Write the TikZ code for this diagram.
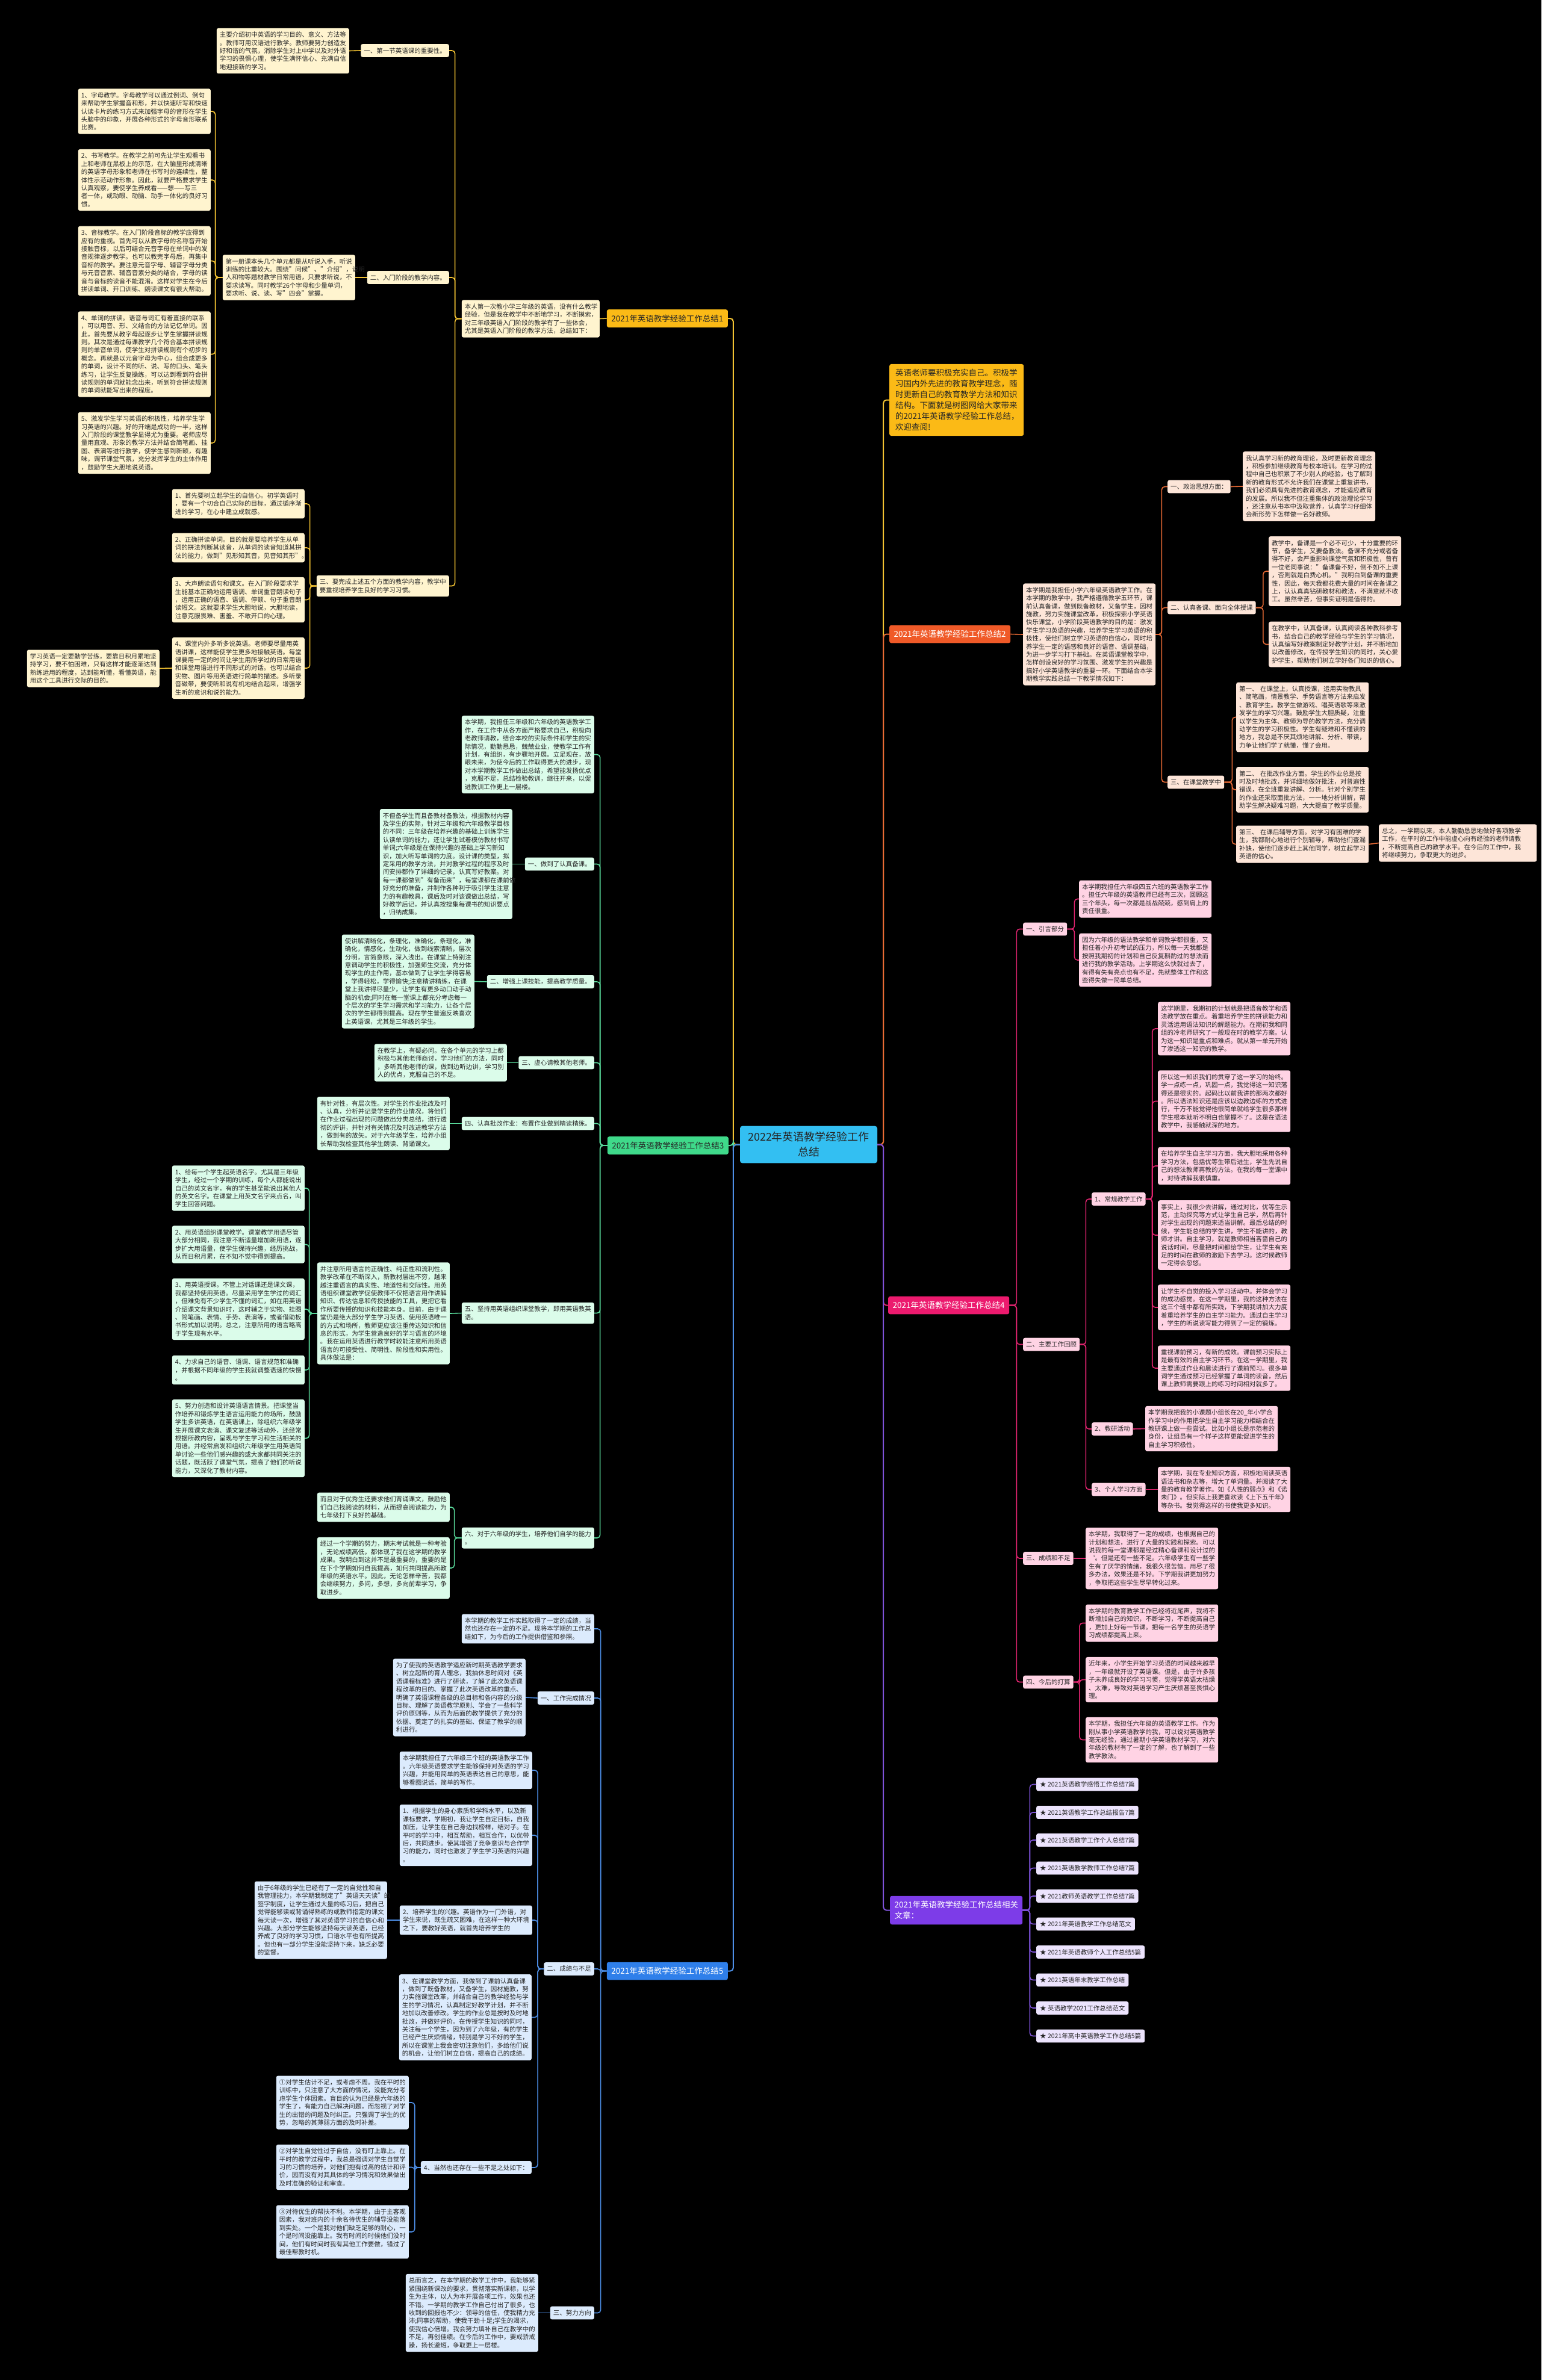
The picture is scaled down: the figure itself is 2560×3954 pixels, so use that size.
\documentclass[tikz,border=0pt]{standalone}
\usepackage{fontspec}
\setmainfont{Noto Sans CJK SC}
\newcommand{\bodyfs}{\fontsize{10.5pt}{13.4pt}\selectfont}
\newcommand{\labfs}{\fontsize{13.5pt}{17.9pt}\selectfont}
\newcommand{\rootfs}{\fontsize{18pt}{25pt}\selectfont}
\definecolor{rootbg}{HTML}{33BFF2}
\definecolor{ylab}{HTML}{FBBA16}\definecolor{ybg}{HTML}{FFF4CF}\definecolor{yln}{HTML}{F2C232}
\definecolor{olab}{HTML}{F05A28}\definecolor{obg}{HTML}{FDE5D8}\definecolor{oln}{HTML}{E86A35}
\definecolor{glab}{HTML}{3FD98A}\definecolor{gbg}{HTML}{DBFCEA}\definecolor{gln}{HTML}{58D99A}
\definecolor{plab}{HTML}{EC1A6E}\definecolor{pbg}{HTML}{FFD3E4}\definecolor{pln}{HTML}{E0246F}
\definecolor{vlab}{HTML}{7D3CE8}\definecolor{vbg}{HTML}{ECE3FD}\definecolor{vln}{HTML}{7E52D9}
\definecolor{blab}{HTML}{2F7FEA}\definecolor{bbg}{HTML}{DCEBFD}\definecolor{bln}{HTML}{4D8EE6}
\definecolor{ink}{HTML}{262626}

\begin{document}
\begin{tikzpicture}[x=1pt, y=-1pt,
  tb/.style={rounded corners=3pt, inner xsep=5pt, inner ysep=6pt, align=left, font=\bodyfs, text=ink, text width=210pt},
  sec/.style={rounded corners=3pt, inner xsep=5pt, inner ysep=6pt, font=\bodyfs, text=ink},
  mainlab/.style={rounded corners=3pt, inner xsep=7.5pt, inner ysep=8.5pt, font=\labfs},
  lside/.style={anchor=east}, rside/.style={anchor=west},
  ytb/.style={tb, fill=ybg}, ysec/.style={sec, fill=ybg},
  otb/.style={tb, fill=obg}, osec/.style={sec, fill=obg},
  gtb/.style={tb, fill=gbg}, gsec/.style={sec, fill=gbg},
  ptb/.style={tb, fill=pbg}, psec/.style={sec, fill=pbg},
  vsec/.style={sec, fill=vbg, inner xsep=6pt},
  btb/.style={tb, fill=bbg}, bsec/.style={sec, fill=bbg},
  link/.style={line width=1.6pt, rounded corners=5pt},
  ylink/.style={link, draw=yln}, olink/.style={link, draw=oln}, glink/.style={link, draw=gln},
  plink/.style={link, draw=pln}, vlink/.style={link, draw=vln}, blink/.style={link, draw=bln}]
  \fill[black] (0,0) rectangle (2560,3954);
  \useasboundingbox (0,0) rectangle (2560,3954);

  % root
  \node[rounded corners=4pt, fill=rootbg, font=\rootfs, text=ink, align=center, text width=204pt, inner xsep=12pt, inner ysep=10pt]
    (root) at (1343,1901.5) {2022年英语教学经验工作\\总结};

  % ---- 总结1 (yellow, left top)
  \node[mainlab, lside, fill=ylab, text=ink] (lab1) at (1209,529) {2021年英语教学经验工作总结1};
  \node[ytb, lside, text width=219pt] (y0) at (996,529.5) {本人第一次教小学三年级的英语，没有什么教学\\经验，但是我在教学中不断地学习，不断摸索，\\对三年级英语入门阶段的教学有了一些体会，\\尤其是英语入门阶段的教学方法，总结如下：};
  \node[ysec, lside] (y1) at (746,84) {一、第一节英语课的重要性。};
  \node[ytb, lside] (y1a) at (580,84.5) {主要介绍初中英语的学习目的、意义、方法等\\。教师可用汉语进行教学。教师要努力创造友\\好和谐的气氛，消除学生对上中学以及对外语\\学习的畏惧心理，使学生满怀信心、充满自信\\地迎接新的学习。};
  \node[ysec, lside] (y2) at (746,461) {二、入门阶段的教学内容。};
  \node[ytb, lside] (y2a) at (590,461) {第一册课本头几个单元都是从听说入手，听说\\训练的比重较大。围绕"问候"、"介绍"，说明\\人和物等题材教学日常用语，只要求听说，不\\要求读写。同时教学26个字母和少量单词，\\要求听、说、读、写"四会"掌握。};
  \node[ytb, lside] (y2b) at (350,185) {1、字母教学。字母教学可以通过例词、例句\\来帮助学生掌握音和形，并以快速听写和快速\\认读卡片的练习方式来加强字母的音形在学生\\头脑中的印象，开展各种形式的字母音形联系\\比赛。};
  \node[ytb, lside] (y2c) at (350,299) {2、书写教学。在教学之前可先让学生观看书\\上和老师在黑板上的示范，在大脑里形成清晰\\的英语字母形象和老师在书写时的连续性，整\\体性示范动作形象。因此，就要严格要求学生\\认真观察，要使学生养成看——想——写三\\者一体，或动眼、动脑、动手一体化的良好习\\惯。};
  \node[ytb, lside] (y2d) at (350,433.5) {3、音标教学。在入门阶段音标的教学应得到\\应有的重视。首先可以从教字母的名称音开始\\接触音标，以后可结合元音字母在单词中的发\\音规律逐步教学。也可以教完字母后，再集中\\音标的教学。要注意元音字母、辅音字母分类\\与元音音素、辅音音素分类的结合，字母的读\\音与音标的读音不能混淆。这样对学生在今后\\拼读单词、开口训练、朗读课文有很大帮助。};
  \node[ytb, lside] (y2e) at (350,588.5) {4、单词的拼读。语音与词汇有着直接的联系\\，可以用音、形、义结合的方法记忆单词。因\\此，首先要从教字母起逐步让学生掌握拼读规\\则。其次是通过每课教学几个符合基本拼读规\\则的单音单词，使学生对拼读规则有个初步的\\概念。再就是以元音字母为中心，组合成更多\\的单词，设计不同的听、说、写的口头、笔头\\练习，让学生反复操练，可以达到看到符合拼\\读规则的单词就能念出来，听到符合拼读规则\\的单词就能写出来的程度。};
  \node[ytb, lside] (y2f) at (350,736) {5、激发学生学习英语的积极性，培养学生学\\习英语的兴趣。好的开端是成功的一半，这样\\入门阶段的课堂教学显得尤为重要。老师应尽\\量用直观、形象的教学方法并结合简笔画、挂\\图、表演等进行教学，使学生感到新颖，有趣\\味，调节课堂气氛，充分发挥学生的主体作用\\，鼓励学生大胆地说英语。};
  \node[ytb, lside] (y3) at (746,973.5) {三、要完成上述五个方面的教学内容，教学中\\要重视培养学生良好的学习习惯。};
  \node[ytb, lside] (y3a) at (506,837) {1、首先要树立起学生的自信心。初学英语时\\，要有一个切合自己实际的目标，通过循序渐\\进的学习，在心中建立成就感。};
  \node[ytb, lside] (y3b) at (506,910) {2、正确拼读单词。目的就是要培养学生从单\\词的拼法判断其读音，从单词的读音知道其拼\\法的能力，做到"见形知其音，见音知其形"。};
  \node[ytb, lside] (y3c) at (506,996.5) {3、大声朗读语句和课文。在入门阶段要求学\\生能基本正确地运用语调、单词重音朗读句子\\，运用正确的语音、语调、停顿、句子重音朗\\读短文。这就要求学生大胆地说，大胆地读，\\注意克服畏难、害羞、不敢开口的心理。};
  \node[ytb, lside] (y3d) at (506,1110) {4、课堂内外多听多说英语。老师要尽量用英\\语讲课，这样能使学生更多地接触英语。每堂\\课要用一定的时间让学生用所学过的日常用语\\和课堂用语进行不同形式的对话。也可以结合\\实物、图片等用英语进行简单的描述。多听录\\音磁带，要使听和说有机地结合起来，增强学\\生听的意识和说的能力。};
  \node[ytb, lside] (y3e) at (265,1110.5) {学习英语一定要勤学苦练，要靠日积月累地坚\\持学习，要不怕困难，只有这样才能逐渐达到\\熟练运用的程度，达到能听懂，看懂英语，能\\用这个工具进行交际的目的。};

  % ---- 总结3 (green, left middle)
  \node[mainlab, lside, fill=glab, text=ink] (lab3) at (1210,1903) {2021年英语教学经验工作总结3};
  \node[gtb, lside] (g0) at (987,1253.5) {本学期，我担任三年级和六年级的英语教学工\\作，在工作中从各方面严格要求自己，积极向\\老教师请教，结合本校的实际条件和学生的实\\际情况，勤勤恳恳，兢兢业业，使教学工作有\\计划，有组织，有步骤地开展。立足现在，放\\眼未来，为使今后的工作取得更大的进步，现\\对本学期教学工作做出总结，希望能发扬优点\\，克服不足，总结检验教训，继往开来，以促\\进教训工作更上一层楼。};
  \node[gsec, lside] (g1) at (987,1435.5) {一、做到了认真备课。};
  \node[gtb, lside] (g1a) at (851,1435.5) {不但备学生而且备教材备教法，根据教材内容\\及学生的实际，针对三年级和六年级教学目标\\的不同：三年级在培养兴趣的基础上训练学生\\认读单词的能力，还让学生试着模仿教材书写\\单词;六年级是在保持兴趣的基础上学习新知\\识，加大听写单词的力度。设计课的类型，拟\\定采用的教学方法，并对教学过程的程序及时\\间安排都作了详细的记录，认真写好教案。对\\每一课都做到"有备而来"，每堂课都在课前做\\好充分的准备，并制作各种利于吸引学生注意\\力的有趣教具，课后及时对该课做出总结，写\\好教学后记，并认真按搜集每课书的知识要点\\，归纳成集。};
  \node[gsec, lside] (g2) at (987,1631) {二、增强上课技能，提高教学质量。};
  \node[gtb, lside] (g2a) at (788,1630.5) {使讲解清晰化，条理化，准确化，条理化，准\\确化，情感化，生动化，做到线索清晰，层次\\分明，言简意赅，深入浅出。在课堂上特别注\\意调动学生的积极性，加强师生交流，充分体\\现学生的主作用，基本做到了让学生学得容易\\，学得轻松，学得愉快;注意精讲精练，在课\\堂上我讲得尽量少，让学生有更多动口动手动\\脑的机会;同时在每一堂课上都充分考虑每一\\个层次的学生学习需求和学习能力，让各个层\\次的学生都得到提高。现在学生普遍反映喜欢\\上英语课，尤其是三年级的学生。};
  \node[gsec, lside] (g3) at (987,1765.5) {三、虚心请教其他老师。};
  \node[gtb, lside] (g3a) at (842,1765.5) {在教学上，有疑必问。在各个单元的学习上都\\积极与其他老师商讨，学习他们的方法，同时\\，多听其他老师的课，做到边听边讲，学习别\\人的优点，克服自己的不足。};
  \node[gsec, lside] (g4) at (987,1866.5) {四、认真批改作业：布置作业做到精读精练。};
  \node[gtb, lside] (g4a) at (747,1866.5) {有针对性，有层次性。对学生的作业批改及时\\、认真，分析并记录学生的作业情况，将他们\\在作业过程出现的问题做出分类总结，进行透\\彻的评讲，并针对有关情况及时改进教学方法\\，做到有的放矢。对于六年级学生，培养小组\\长帮助我检查其他学生朗读、背诵课文。};
  \node[gtb, lside] (g5) at (987,2181.5) {五、坚持用英语组织课堂教学，即用英语教英\\语。};
  \node[gtb, lside] (g5a) at (747,2182) {并注意所用语言的正确性、纯正性和流利性。\\教学改革在不断深入，新教材层出不穷，越来\\越注重语言的真实性、地道性和交际性。用英\\语组织课堂教学促使教师不仅把语言用作讲解\\知识、传达信息和传授技能的工具，更把它看\\作所要传授的知识和技能本身。目前，由于课\\堂仍是绝大部分学生学习英语、使用英语唯一\\的方式和场所，教师更应该注重传达知识和信\\息的形式，为学生营造良好的学习语言的环境\\。我在运用英语进行教学时较能注意所用英语\\语言的可接受性、简明性、阶段性和实用性。\\具体做法是：};
  \node[gtb, lside] (g5b) at (506,1974) {1、给每一个学生起英语名字。尤其是三年级\\学生，经过一个学期的训练，每个人都能说出\\自己的英文名字，有的学生甚至能说出其他人\\的英文名字。在课堂上用英文名字来点名，叫\\学生回答问题。};
  \node[gtb, lside] (g5c) at (506,2067.5) {2、用英语组织课堂教学。课堂教学用语尽管\\大部分相同，我注意不断适量增加新用语，逐\\步扩大用语量，使学生保持兴趣，经历挑战，\\从而日积月累，在不知不觉中得到提高。};
  \node[gtb, lside] (g5d) at (506,2175) {3、用英语授课。不管上对话课还是课文课，\\我都坚持使用英语。尽量采用学生学过的词汇\\，但难免有不少学生不懂的词汇，如在用英语\\介绍课文背景知识时，这时辅之于实物、挂图\\、简笔画、表情、手势、表演等，或者借助板\\书形式加以说明。总之，注意所用的语言略高\\于学生现有水平。};
  \node[gtb, lside] (g5e) at (506,2276) {4、力求自己的语音、语调、语言规范和准确\\，并根据不同年级的学生我就调整语速的快慢\\。};
  \node[gtb, lside] (g5f) at (506,2389.5) {5、努力创造和设计英语语言情景。把课堂当\\作培养和锻炼学生语言运用能力的场所，鼓励\\学生多讲英语，在英语课上，除组织六年级学\\生开展课文表演、课文复述等活动外，还经常\\根据所教内容，呈现与学生学习和生活相关的\\用语。并经常启发和组织六年级学生用英语简\\单讨论一些他们感兴趣的或大家都共同关注的\\话题，既活跃了课堂气氛，提高了他们的听说\\能力，又深化了教材内容。};
  \node[gtb, lside] (g6) at (987,2555) {六、对于六年级的学生，培养他们自学的能力\\。};
  \node[gtb, lside] (g6a) at (747,2504) {而且对于优秀生还要求他们背诵课文，鼓励他\\们自己找阅读的材料，从而提高阅读能力，为\\七年级打下良好的基础。};
  \node[gtb, lside] (g6b) at (747,2605) {经过一个学期的努力，期末考试就是一种考验\\，无论成绩高低，都体现了我在这学期的教学\\成果。我明白到这并不是最重要的，重要的是\\在下个学期如何自我提高，如何共同提高所教\\年级的英语水平。因此，无论怎样辛苦，我都\\会继续努力，多问，多想，多向前辈学习，争\\取进步。};

  % ---- 总结5 (blue, left bottom)
  \node[mainlab, lside, fill=blab, text=white] (lab5) at (1209,3274.5) {2021年英语教学经验工作总结5};
  \node[btb, lside] (b0) at (987,2706) {本学期的教学工作实践取得了一定的成绩，当\\然也还存在一定的不足。现将本学期的工作总\\结如下，为今后的工作提供借鉴和参照。};
  \node[bsec, lside] (b1) at (987,2821) {一、工作完成情况};
  \node[btb, lside] (b1a) at (873,2820) {为了使我的英语教学适应新时期英语教学要求\\、树立起新的育人理念，我抽休息时间对《英\\语课程标准》进行了研读，了解了此次英语课\\程改革的目的、掌握了此次英语改革的重点、\\明确了英语课程各级的总目标和各内容的分级\\目标、理解了英语教学原则、学会了一些科学\\评价原则等，从而为后面的教学提供了充分的\\依据、奠定了的扎实的基础、保证了教学的顺\\利进行。};
  \node[bsec, lside] (b2) at (987,3271) {二、成绩与不足};
  \node[btb, lside] (b2a) at (884,2941) {本学期我担任了六年级三个班的英语教学工作\\。六年级英语要求学生能够保持对英语的学习\\兴趣，并能用简单的英语表达自己的意思，能\\够看图说话，简单的写作。};
  \node[btb, lside] (b2b) at (884,3049) {1、根据学生的身心素质和学科水平，以及新\\课标要求，学期初，我让学生自定目标，自我\\加压，让学生在自己身边找榜样，结对子。在\\平时的学习中，相互帮助，相互合作，以优带\\后，共同进步。使其增强了竞争意识与合作学\\习的能力，同时也激发了学生学习英语的兴趣\\。};
  \node[btb, lside] (b2c) at (884,3190) {2、培养学生的兴趣。英语作为一门外语，对\\学生来说，既生疏又困难，在这样一种大环境\\之下，要教好英语，就首先培养学生的};
  \node[btb, lside] (b2c1) at (643,3190) {由于6年级的学生已经有了一定的自觉性和自\\我管理能力，本学期我制定了"英语天天读"的\\签字制度，让学生通过大量的练习后，把自己\\觉得能够读或背诵得熟练的或教师指定的课文\\每天读一次，增强了其对英语学习的自信心和\\兴趣。大部分学生能够坚持每天读英语，已经\\养成了良好的学习习惯，口语水平也有所提高\\。但也有一部分学生没能坚持下来，缺乏必要\\的监督。};
  \node[btb, lside] (b2d) at (883,3351.5) {3、在课堂教学方面，我做到了课前认真备课\\，做到了既备教材，又备学生，因材施教，努\\力实施课堂改革，并结合自己的教学经验与学\\生的学习情况，认真制定好教学计划，并不断\\地加以改善修改。学生的作业总是按时及时地\\批改，并做好评价。在传授学生知识的同时，\\关注每一个学生，因为到了六年级，有的学生\\已经产生厌烦情绪，特别是学习不好的学生，\\所以在课堂上我会密切注意他们，多给他们说\\的机会，让他们树立自信，提高自己的成绩。};
  \node[bsec, lside] (b2e) at (883,3601) {4、当然也还存在一些不足之处如下：};
  \node[btb, lside] (b2e1) at (679,3493) {①对学生估计不足，或考虑不周。我在平时的\\训练中，只注意了大方面的情况，没能充分考\\虑学生个体因素。盲目的认为已经是六年级的\\学生了，有能力自己解决问题，而忽视了对学\\生的出错的问题及时纠正。只强调了学生的优\\势，忽略的其薄弱方面的及时补差。};
  \node[btb, lside] (b2e2) at (679,3600.5) {②对学生自觉性过于自信，没有盯上靠上。在\\平时的教学过程中，我总是强调对学生自觉学\\习的习惯的培养，对他们抱有过高的估计和评\\价，因而没有对其具体的学习情况和效果做出\\及时准确的验证和审查。};
  \node[btb, lside] (b2e3) at (679,3708) {③对待优生的帮扶不利。本学期，由于主客观\\因素，我对班内的十余名待优生的辅导没能落\\到实处。一个是我对他们缺乏足够的耐心，一\\个是时间没能靠上。我有时间的时候他们没时\\间，他们有时间时我有其他工作要做，错过了\\最佳帮教时机。};
  \node[bsec, lside] (b3) at (987,3842.5) {三、努力方向};
  \node[btb, lside] (b3a) at (894,3842.5) {总而言之，在本学期的教学工作中，我能够紧\\紧围绕新课改的要求，贯彻落实新课标，以学\\生为主体，以人为本开展各项工作，效果也还\\不错。一学期的教学工作自己付出了很多，也\\收到的回报也不少：领导的信任，使我精力充\\沛;同事的帮助，使我干劲十足;学生的渴求，\\使我信心倍增。我会努力填补自己在教学中的\\不足，再创佳绩。在今后的工作中，要戒骄戒\\躁，扬长避短，争取更上一层楼。};

  % ---- intro and 总结2 (orange, right top)
  \node[mainlab, rside, fill=ylab, text=ink, align=left, text width=203pt, inner xsep=10pt] (t0) at (1477,664.5) {英语老师要积极充实自己。积极学\\习国内外先进的教育教学理念，随\\时更新自己的教育教学方法和知识\\结构。下面就是树图网给大家带来\\的2021年英语教学经验工作总结，\\欢迎查阅!};
  \node[mainlab, rside, fill=olab, text=white] (lab2) at (1477,1053.5) {2021年英语教学经验工作总结2};
  \node[otb, rside] (o0) at (1699,1054) {本学期是我担任小学六年级英语教学工作。在\\本学期的教学中，我严格遵循教学五环节，课\\前认真备课，做到既备教材，又备学生，因材\\施教，努力实施课堂改革，积极探索小学英语\\快乐课堂，小学阶段英语教学的目的是：激发\\学生学习英语的兴趣，培养学生学习英语的积\\极性，使他们树立学习英语的自信心，同时培\\养学生一定的语感和良好的语音、语调基础，\\为进一步学习打下基础。在英语课堂教学中，\\怎样创设良好的学习氛围、激发学生的兴趣是\\搞好小学英语教学的重要一环。下面结合本学\\期教学实践总结一下教学情况如下：};
  \node[osec, rside] (o1) at (1939,808.5) {一、政治思想方面：};
  \node[otb, rside] (o1a) at (2064,808) {我认真学习新的教育理论，及时更新教育理念\\，积极参加继续教育与校本培训。在学习的过\\程中自己也积累了不少别人的经验，也了解到\\新的教育形式不允许我们在课堂上重复讲书，\\我们必须具有先进的教育观念，才能适应教育\\的发展。所以我不但注重集体的政治理论学习\\，还注意从书本中汲取营养，认真学习仔细体\\会新形势下怎样做一名好教师。};
  \node[osec, rside] (o2) at (1939,1009.5) {二、认真备课、面向全体授课};
  \node[otb, rside] (o2a) at (2107,949) {教学中，备课是一个必不可少，十分重要的环\\节，备学生，又要备教法。备课不充分或者备\\得不好，会严重影响课堂气氛和积极性，曾有\\一位老同事说："备课备不好，倒不如不上课\\，否则就是白费心机。"我明白到备课的重要\\性，因此，每天我都花费大量的时间在备课之\\上，认认真真钻研教材和教法，不满意就不收\\工。虽然辛苦，但事实证明是值得的。};
  \node[otb, rside] (o2b) at (2107,1070.5) {在教学中，认真备课，认真阅读各种教科参考\\书，结合自己的教学经验与学生的学习情况，\\认真编写好教案制定好教学计划，并不断地加\\以改善修改，在传授学生知识的同时，关心爱\\护学生，帮助他们树立学好各门知识的信心。};
  \node[osec, rside] (o3) at (1939,1299.5) {三、在课堂教学中};
  \node[otb, rside] (o3a) at (2053,1191.5) {第一、 在课堂上，认真授课，运用实物教具\\、简笔画，情景教学、手势语言等方法来启发\\、教育学生。教学生做游戏、唱英语歌等来激\\发学生的学习兴趣。鼓励学生大胆质疑，注重\\以学生为主体、教师为导的教学方法，充分调\\动学生的学习积极性。学生有疑难和不懂读的\\地方，我总是不厌其烦地讲解、分析、带读，\\力争让他们学了就懂，懂了会用。};
  \node[otb, rside] (o3b) at (2053,1312) {第二、 在批改作业方面。学生的作业总是按\\时及时地批改，并详细地做好批注，对普遍性\\错误，在全班重复讲解、分析。针对个别学生\\的作业还采取面批方法，一一地分析讲解，帮\\助学生解决疑难习题，大大提高了教学质量。};
  \node[otb, rside] (o3c) at (2053,1402.5) {第三、 在课后辅导方面。对学习有困难的学\\生，我都耐心地进行个别辅导，帮助他们查漏\\补缺，使他们逐步赶上其他同学，树立起学习\\英语的信心。};
  \node[otb, rside, text width=252pt] (o3c1) at (2290,1400.5) {总之，一学期以来，本人勤勤恳恳地做好各项教学\\工作，在平时的工作中能虚心向有经验的老师请教\\，不断提高自己的教学水平。在今后的工作中，我\\将继续努力，争取更大的进步。};

  % ---- 总结4 (pink, right middle)
  \node[mainlab, rside, fill=plab, text=white] (lab4) at (1475,2168.5) {2021年英语教学经验工作总结4};
  \node[psec, rside] (p1) at (1699,1543.5) {一、引言部分};
  \node[ptb, rside] (p1a) at (1792,1493.5) {本学期我担任六年级四五六班的英语教学工作\\。担任六年级的英语教师已经有三次，回顾这\\三个年头，每一次都是战战兢兢，感到肩上的\\责任很重。};
  \node[ptb, rside] (p1b) at (1792,1595) {因为六年级的语法教学和单词教学都很重，又\\担任着小升初考试的压力，所以每一天我都是\\按照我期初的计划和自己反复斟酌过的想法而\\进行我的教学活动。上学期这么快就过去了，\\有得有失有亮点也有不足，先就整体工作和这\\些得失做一简单总结。};
  \node[psec, rside] (p2) at (1699,2233.5) {二、主要工作回顾};
  \node[psec, rside] (p21) at (1813,1992) {1、常规教学工作};
  \node[ptb, rside] (p21a) at (1923,1709) {这学期里，我期初的计划就是把语音教学和语\\法教学放在重点。着重培养学生的拼读能力和\\灵活运用语法知识的解题能力。在期初我和同\\组的冷老师研究了一般现在时的教学方案。认\\为这一知识是重点和难点。就从第一单元开始\\了渗透这一知识的教学。};
  \node[ptb, rside] (p21b) at (1923,1829.5) {所以这一知识我们的贯穿了这一学习的始终。\\学一点练一点，巩固一点，我觉得这一知识落\\得还是很实的。起码比以前我讲的那两次都好\\。所以语法知识还是应该以边教边练的方式进\\行，千万不能觉得他很简单就给学生很多那样\\学生根本就听不明白也掌握不了。这是在语法\\教学中，我感触就深的地方。};
  \node[ptb, rside] (p21c) at (1923,1937) {在培养学生自主学习方面，我大胆地采用各种\\学习方法，包括优等生带后进生，学生先说自\\己的想法教师再教的方法。在我的每一堂课中\\，对待讲解我很慎重。};
  \node[ptb, rside] (p21d) at (1923,2052) {事实上，我很少去讲解，通过对比，优等生示\\范，主动探究等方式让学生自己学，然后再针\\对学生出现的问题来适当讲解。最后总结的时\\候，学生能总结的学生讲，学生不能讲的，教\\师才讲。自主学习，就是教师相当吝啬自己的\\说话时间，尽量把时间都给学生，让学生有充\\足的时间在教师的激励下去学习。这时候教师\\一定得会忽悠。};
  \node[ptb, rside] (p21e) at (1923,2172) {让学生不自觉的投入学习活动中。并体会学习\\的成功感觉。在这一学期里，我的这种方法在\\这三个班中都有所实践，下学期我讲加大力度\\着重培养学生的自主学习能力。通过自主学习\\，学生的听说读写能力得到了一定的锻炼。};
  \node[ptb, rside] (p21f) at (1923,2273) {重视课前预习，有新的成效。课前预习实际上\\是最有效的自主学习环节。在这一学期里，我\\主要通过作业和晨读进行了课前预习。很多单\\词学生通过预习已经掌握了单词的读音，然后\\课上教师需要跟上的练习时间相对就多了。};
  \node[psec, rside] (p22) at (1813,2374) {2、教研活动};
  \node[ptb, rside] (p22a) at (1902,2373.5) {本学期我把我的小课题小组长在20\_年小学合\\作学习中的作用把学生自主学习能力相结合在\\教研课上做一些尝试。比如小组长是示范者的\\身份，让组员有一个样子这样更能促进学生的\\自主学习积极性。};
  \node[psec, rside] (p23) at (1813,2474.5) {3、个人学习方面};
  \node[ptb, rside] (p23a) at (1923,2474.5) {本学期，我在专业知识方面，积极地阅读英语\\语法书和杂志等，增大了单词量。并阅读了大\\量的教育教学著作。如《人性的弱点》和《诺\\未门》。但实际上我更喜欢读《上下五千年》\\等杂书。我觉得这样的书使我更多知识。};
  \node[psec, rside] (p3) at (1699,2589) {三、成绩和不足};
  \node[ptb, rside] (p3a) at (1803,2589) {本学期，我取得了一定的成绩，也根据自己的\\计划和想法，进行了大量的实践和探索。可以\\说我的每一堂课都是经过精心备课和设计过的\\`。但是还有一些不足。六年级学生有一些学\\生有了厌学的情绪，我很久很苦恼。用尽了很\\多办法，效果还是不好。下学期我讲更加努力\\，争取把这些学生尽早转化过来。};
  \node[psec, rside] (p4) at (1699,2794.5) {四、今后的打算};
  \node[ptb, rside] (p4a) at (1803,2696.5) {本学期的教育教学工作已经将近尾声，我将不\\断增加自己的知识，不断学习，不断提高自己\\，更加上好每一节课。把每一名学生的英语学\\习成绩都提高上来。};
  \node[ptb, rside] (p4b) at (1803,2790.5) {近年来，小学生开始学习英语的时间越来越早\\，一年级就开设了英语课。但是，由于许多孩\\子未养成良好的学习习惯，觉得学英语太枯燥\\、太难，导致对英语学习产生厌烦甚至畏惧心\\理。};
  \node[ptb, rside] (p4c) at (1803,2890.5) {本学期，我担任六年级的英语教学工作。作为\\刚从事小学英语教学的我，可以说对英语教学\\毫无经验，通过暑期小学英语教材学习，对六\\年级的教材有了一定的了解，也了解到了一些\\教学教法。};

  % ---- 相关文章 (purple, right bottom)
  \node[mainlab, rside, fill=vlab, text=white, align=left, text width=205pt] (labr) at (1478,3173.5) {2021年英语教学经验工作总结相关\\文章：};
  \node[vsec, rside] (r1)  at (1721,2964.5) {★ 2021英语教学感悟工作总结7篇};
  \node[vsec, rside] (r2)  at (1721,3011)   {★ 2021英语教学工作总结报告7篇};
  \node[vsec, rside] (r3)  at (1721,3057)   {★ 2021英语教学工作个人总结7篇};
  \node[vsec, rside] (r4)  at (1721,3103.5) {★ 2021英语教学教师工作总结7篇};
  \node[vsec, rside] (r5)  at (1721,3150)   {★ 2021教师英语教学工作总结7篇};
  \node[vsec, rside] (r6)  at (1721,3196.5) {★ 2021年英语教学工作总结范文};
  \node[vsec, rside] (r7)  at (1721,3243)   {★ 2021年英语教师个人工作总结5篇};
  \node[vsec, rside] (r8)  at (1721,3289.5) {★ 2021英语年末教学工作总结};
  \node[vsec, rside] (r9)  at (1721,3336)   {★ 英语教学2021工作总结范文};
  \node[vsec, rside] (r10) at (1721,3382.5) {★ 2021年高中英语教学工作总结5篇};

  % ---- connectors from root
  \draw[ylink, line width=2pt] (root.west) -- ++(-11,0) |- (lab1.east);
  \draw[glink, line width=2pt] (root.west) -- ++(-11,0) |- (lab3.east);
  \draw[blink, line width=2pt] (root.west) -- ++(-11,0) |- (lab5.east);
  \draw[ylink, line width=2pt] (root.east) -- ++(10,0) |- (t0.west);
  \draw[olink, line width=2pt] (root.east) -- ++(10,0) |- (lab2.west);
  \draw[plink, line width=2pt] (root.east) -- ++(10,0) |- (lab4.west);
  \draw[vlink, line width=2pt] (root.east) -- ++(10,0) |- (labr.west);

  % yellow
  \draw[ylink] (lab1.west) -- (y0.east);
  \draw[ylink] (y0.west) -- ++(-11,0) |- (y1.east);
  \draw[ylink] (y0.west) -- ++(-11,0) |- (y2.east);
  \draw[ylink] (y0.west) -- ++(-11,0) |- (y3.east);
  \draw[ylink] (y1.west) -- (y1a.east);
  \draw[ylink] (y2.west) -- (y2a.east);
  \draw[ylink] (y2a.west) -- ++(-12,0) |- (y2b.east);
  \draw[ylink] (y2a.west) -- ++(-12,0) |- (y2c.east);
  \draw[ylink] (y2a.west) -- ++(-12,0) |- (y2d.east);
  \draw[ylink] (y2a.west) -- ++(-12,0) |- (y2e.east);
  \draw[ylink] (y2a.west) -- ++(-12,0) |- (y2f.east);
  \draw[ylink] (y3.west) -- ++(-11,0) |- (y3a.east);
  \draw[ylink] (y3.west) -- ++(-11,0) |- (y3b.east);
  \draw[ylink] (y3.west) -- ++(-11,0) |- (y3c.east);
  \draw[ylink] (y3.west) -- ++(-11,0) |- (y3d.east);
  \draw[ylink] (y3d.west) -- (y3e.east);

  % green
  \draw[glink] (lab3.west) -- ++(-12,0) |- (g0.east);
  \draw[glink] (lab3.west) -- ++(-12,0) |- (g1.east);
  \draw[glink] (lab3.west) -- ++(-12,0) |- (g2.east);
  \draw[glink] (lab3.west) -- ++(-12,0) |- (g3.east);
  \draw[glink] (lab3.west) -- ++(-12,0) |- (g4.east);
  \draw[glink] (lab3.west) -- ++(-12,0) |- (g5.east);
  \draw[glink] (lab3.west) -- ++(-12,0) |- (g6.east);
  \draw[glink] (g1.west) -- (g1a.east);
  \draw[glink] (g2.west) -- (g2a.east);
  \draw[glink] (g3.west) -- (g3a.east);
  \draw[glink] (g4.west) -- (g4a.east);
  \draw[glink] (g5.west) -- (g5a.east);
  \draw[glink] (g5a.west) -- ++(-13,0) |- (g5b.east);
  \draw[glink] (g5a.west) -- ++(-13,0) |- (g5c.east);
  \draw[glink] (g5a.west) -- ++(-13,0) |- (g5d.east);
  \draw[glink] (g5a.west) -- ++(-13,0) |- (g5e.east);
  \draw[glink] (g5a.west) -- ++(-13,0) |- (g5f.east);
  \draw[glink] (g6.west) -- ++(-12,0) |- (g6a.east);
  \draw[glink] (g6.west) -- ++(-12,0) |- (g6b.east);

  % blue
  \draw[blink] (lab5.west) -- ++(-10,0) |- (b0.east);
  \draw[blink] (lab5.west) -- ++(-10,0) |- (b1.east);
  \draw[blink] (lab5.west) -- ++(-10,0) |- (b2.east);
  \draw[blink] (lab5.west) -- ++(-10,0) |- (b3.east);
  \draw[blink] (b1.west) -- (b1a.east);
  \draw[blink] (b2.west) -- ++(-10,0) |- (b2a.east);
  \draw[blink] (b2.west) -- ++(-10,0) |- (b2b.east);
  \draw[blink] (b2.west) -- ++(-10,0) |- (b2c.east);
  \draw[blink] (b2.west) -- ++(-10,0) |- (b2d.east);
  \draw[blink] (b2.west) -- ++(-10,0) |- (b2e.east);
  \draw[blink] (b2c.west) -- (b2c1.east);
  \draw[blink] (b2e.west) -- ++(-10,0) |- (b2e1.east);
  \draw[blink] (b2e.west) -- ++(-10,0) |- (b2e2.east);
  \draw[blink] (b2e.west) -- ++(-10,0) |- (b2e3.east);
  \draw[blink] (b3.west) -- (b3a.east);

  % orange
  \draw[olink] (lab2.east) -- (o0.west);
  \draw[olink] (o0.east) -- ++(10,0) |- (o1.west);
  \draw[olink] (o0.east) -- ++(10,0) |- (o2.west);
  \draw[olink] (o0.east) -- ++(10,0) |- (o3.west);
  \draw[olink] (o1.east) -- (o1a.west);
  \draw[olink] (o2.east) -- ++(12,0) |- (o2a.west);
  \draw[olink] (o2.east) -- ++(12,0) |- (o2b.west);
  \draw[olink] (o3.east) -- ++(13,0) |- (o3a.west);
  \draw[olink] (o3.east) -- ++(13,0) |- (o3b.west);
  \draw[olink] (o3.east) -- ++(13,0) |- (o3c.west);
  \draw[olink] (o3c.east) -- (o3c1.west);

  % pink
  \draw[plink] (lab4.east) -- ++(12,0) |- (p1.west);
  \draw[plink] (lab4.east) -- ++(12,0) |- (p2.west);
  \draw[plink] (lab4.east) -- ++(12,0) |- (p3.west);
  \draw[plink] (lab4.east) -- ++(12,0) |- (p4.west);
  \draw[plink] (p1.east) -- ++(12,0) |- (p1a.west);
  \draw[plink] (p1.east) -- ++(12,0) |- (p1b.west);
  \draw[plink] (p2.east) -- ++(10,0) |- (p21.west);
  \draw[plink] (p2.east) -- ++(10,0) |- (p22.west);
  \draw[plink] (p2.east) -- ++(10,0) |- (p23.west);
  \draw[plink] (p21.east) -- ++(11,0) |- (p21a.west);
  \draw[plink] (p21.east) -- ++(11,0) |- (p21b.west);
  \draw[plink] (p21.east) -- ++(11,0) |- (p21c.west);
  \draw[plink] (p21.east) -- ++(11,0) |- (p21d.west);
  \draw[plink] (p21.east) -- ++(11,0) |- (p21e.west);
  \draw[plink] (p21.east) -- ++(11,0) |- (p21f.west);
  \draw[plink] (p22.east) -- (p22a.west);
  \draw[plink] (p23.east) -- (p23a.west);
  \draw[plink] (p3.east) -- (p3a.west);
  \draw[plink] (p4.east) -- ++(10,0) |- (p4a.west);
  \draw[plink] (p4.east) -- ++(10,0) |- (p4b.west);
  \draw[plink] (p4.east) -- ++(10,0) |- (p4c.west);

  % purple
  \draw[vlink] (labr.east) -- ++(12,0) |- (r1.west);
  \draw[vlink] (labr.east) -- ++(12,0) |- (r2.west);
  \draw[vlink] (labr.east) -- ++(12,0) |- (r3.west);
  \draw[vlink] (labr.east) -- ++(12,0) |- (r4.west);
  \draw[vlink] (labr.east) -- ++(12,0) |- (r5.west);
  \draw[vlink] (labr.east) -- ++(12,0) |- (r6.west);
  \draw[vlink] (labr.east) -- ++(12,0) |- (r7.west);
  \draw[vlink] (labr.east) -- ++(12,0) |- (r8.west);
  \draw[vlink] (labr.east) -- ++(12,0) |- (r9.west);
  \draw[vlink] (labr.east) -- ++(12,0) |- (r10.west);
\end{tikzpicture}
\end{document}
